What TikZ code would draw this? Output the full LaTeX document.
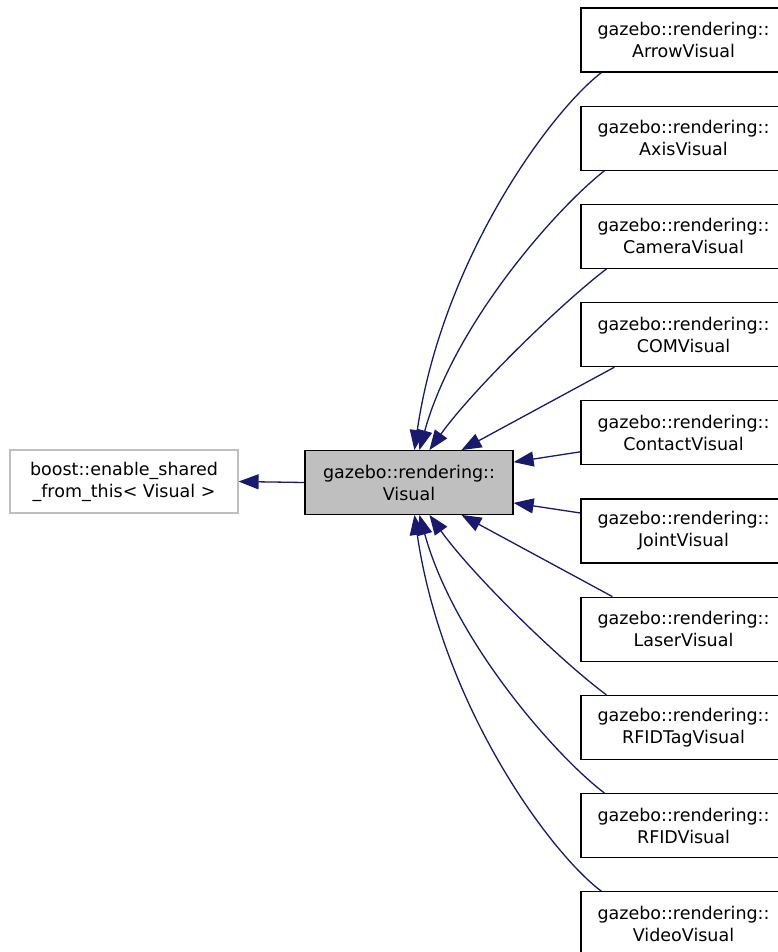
\documentclass[tikz,border=0pt]{standalone}
\usepackage{fontspec}
\setmainfont{DejaVu Sans}
\usetikzlibrary{arrows.meta,calc}
\definecolor{edgec}{HTML}{191970}
\definecolor{grayfill}{HTML}{BFBFBF}
\begin{document}
\begin{tikzpicture}[x=1pt,y=-1pt,
  box/.style={draw=black,line width=1.2pt,fill=white,inner sep=0pt,align=center,
    minimum width=205pt,minimum height=64pt,font=\fontsize{17.5}{22}\selectfont},
  edge/.style={draw=edgec,line width=1.3pt,-{Triangle[length=20pt,width=15pt]}}]
\useasboundingbox (0,0) rectangle (777,952);
\fill[white] (0,0) rectangle (777,952);
\node[box,draw=grayfill,minimum width=228pt,minimum height=63pt] (base) at (124,481.5) {boost::enable\_shared\\\_from\_this< Visual >};
\node[box,fill=grayfill,minimum width=208pt,minimum height=63.6pt] (vis) at (409,482.5) {gazebo::rendering::\\Visual};
\foreach \i/\nm in {0/ArrowVisual,1/AxisVisual,2/CameraVisual,3/COMVisual,4/ContactVisual,5/JointVisual,6/LaserVisual,7/RFIDTagVisual,8/RFIDVisual,9/VideoVisual}{
  \node[box] (n\i) at (683.5,{40+\i*98.2}) {gazebo::rendering::\\\nm};
}
\draw[edge] (vis.west) -- (base.east);
\draw[edge] ($(n0.south west)+(21,0)$) .. controls (550,112) and (442,260) .. ($(vis.north west)+(110,0)$);
\draw[edge] ($(n1.south west)+(24,0)$) .. controls (558,207) and (455,322) .. ($(vis.north west)+(115,0)$);
\draw[edge] ($(n2.south west)+(26,0)$) .. controls (563,302) and (474,388) .. ($(vis.north west)+(125,0)$);
\draw[edge] ($(n3.south west)+(34,0)$) -- ($(vis.north west)+(157,0)$);
\draw[edge] ($(n4.west)+(0,19)$) -- ($(vis.north east)+(0,12)$);
\draw[edge] ($(n5.west)+(0,-18)$) -- ($(vis.south east)+(0,-12)$);
\draw[edge] ($(n6.north west)+(32,0)$) -- ($(vis.south west)+(157,0)$);
\draw[edge] ($(n7.north west)+(26,0)$) .. controls (563,663) and (474,577) .. ($(vis.south west)+(125,0)$);
\draw[edge] ($(n8.north west)+(24,0)$) .. controls (558,758) and (455,643) .. ($(vis.south west)+(115,0)$);
\draw[edge] ($(n9.north west)+(21,0)$) .. controls (550,853) and (442,705) .. ($(vis.south west)+(110,0)$);
\end{tikzpicture}
\end{document}
